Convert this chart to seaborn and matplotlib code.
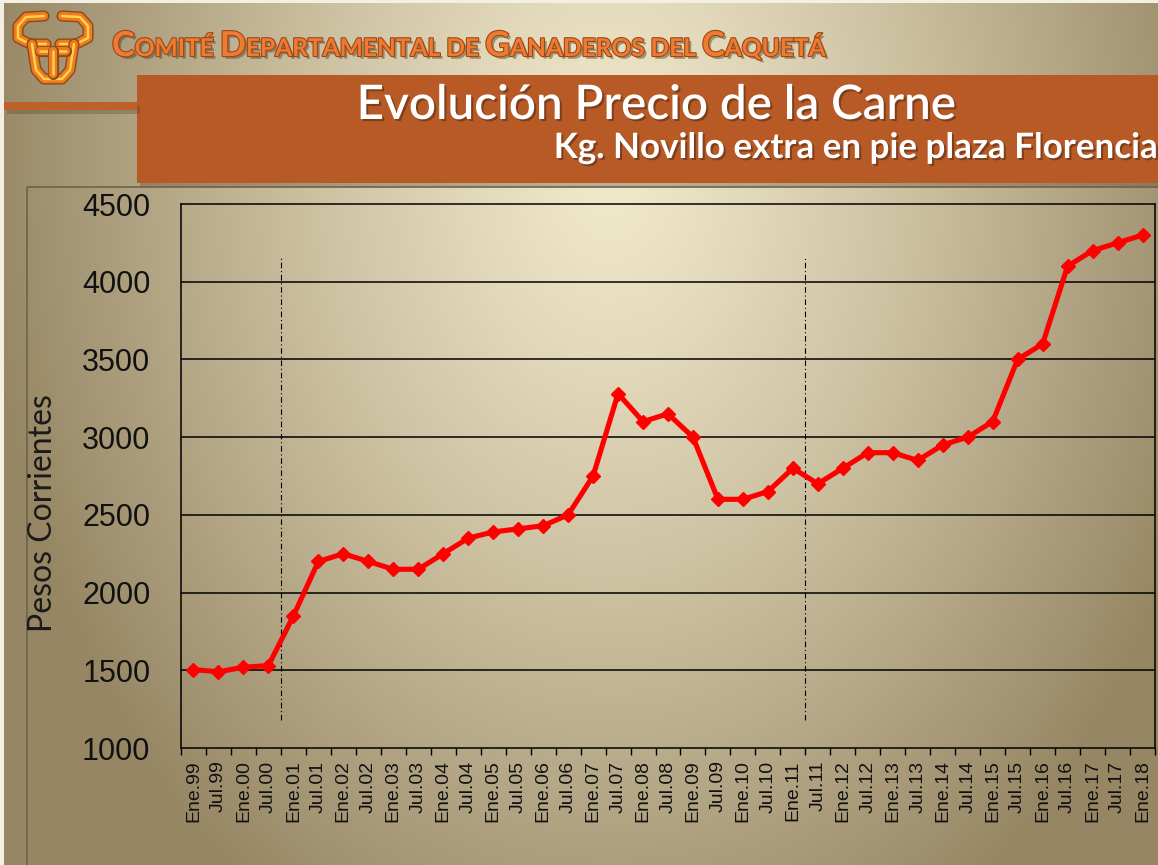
import numpy as np
import pandas as pd
import matplotlib
matplotlib.use("Agg")
import matplotlib.pyplot as plt
import matplotlib.patheffects as pe
from matplotlib.patches import Rectangle
import seaborn as sns

# ---------------- data ----------------
periodos = ["Ene.99", "Jul.99", "Ene.00", "Jul.00", "Ene.01", "Jul.01", "Ene.02", "Jul.02",
            "Ene.03", "Jul.03", "Ene.04", "Jul.04", "Ene.05", "Jul.05", "Ene.06", "Jul.06",
            "Ene.07", "Jul.07", "Ene.08", "Jul.08", "Ene.09", "Jul.09", "Ene.10", "Jul.10",
            "Ene.11", "Jul.11", "Ene.12", "Jul.12", "Ene.13", "Jul.13", "Ene.14", "Jul.14",
            "Ene.15", "Jul.15", "Ene.16", "Jul.16", "Ene.17", "Jul.17", "Ene.18"]
precios = [1505, 1490, 1520, 1530, 1850, 2200, 2250, 2200,
           2150, 2150, 2250, 2350, 2390, 2410, 2430, 2500,
           2750, 3280, 3100, 3150, 3000, 2600, 2600, 2650,
           2800, 2700, 2800, 2900, 2900, 2850, 2950, 3000,
           3100, 3500, 3600, 4100, 4200, 4250, 4300]
y_ticks = [1000, 1500, 2000, 2500, 3000, 3500, 4000, 4500]
cortes = ["Ene.01", "Jul.11"]          # dashed separators placed before these periods
encabezado = [("C", 1), ("OMITÉ ", 0), ("D", 1), ("EPARTAMENTAL ", 0), ("DE ", 0),
              ("G", 1), ("ANADEROS ", 0), ("DEL ", 0), ("C", 1), ("AQUETÁ", 0)]
titulo = "Evolución Precio de la Carne"
subtitulo = "Kg. Novillo extra en pie plaza Florencia"
etiqueta_y = "Pesos Corrientes"

df = pd.DataFrame({"pos": np.arange(len(periodos)), "periodo": periodos, "precio": precios})

# ---------------- figure ----------------
W, H = 1158, 865
fig = plt.figure(figsize=(W / 100, H / 100), dpi=100)
renderer = fig.canvas.get_renderer()

# background canvas in pixel coordinates (y down)
bg = fig.add_axes([0, 0, 1, 1], zorder=-10)
bg.axis("off")
yy, xx = np.mgrid[0:H, 0:W]
d = np.sqrt(((xx - 610) / 630) ** 2 + ((yy - 170) / 880) ** 2)
t = np.clip(d, 0, 1) ** 1.2
light = np.array([241, 233, 203]) / 255
dark = np.array([150, 134, 100]) / 255
img = light + (dark - light) * t[..., None]
bg.imshow(img, extent=[0, W, H, 0], aspect="auto", interpolation="bilinear")
bg.set_xlim(0, W)
bg.set_ylim(H, 0)

# thin light edges
bg.add_patch(Rectangle((0, 0), 4, H, color="#f3efe2", lw=0))
bg.add_patch(Rectangle((0, 0), W, 3, color="#f3efe2", lw=0))

shadow = [pe.SimplePatchShadow(offset=(2, -3), shadow_rgbFace="#5a4a30", alpha=0.35), pe.Normal()]
# orange banner and left stripe
bg.add_patch(Rectangle((137, 75), W - 137 + 10, 108, color="#b85a25", lw=0, path_effects=shadow))
bg.add_patch(Rectangle((4, 102), 133, 8, color="#bd6029", lw=0, path_effects=shadow))
# chart object border
bg.add_patch(Rectangle((27, 187), W, H, fill=False, ec="#6e624c", lw=1.2))

# logo (bull head)
logo_paths = [
    [(44, 16), (26, 17), (18, 26), (18, 38), (30, 44), (46, 44)],
    [(62, 16), (80, 17), (88, 26), (88, 38), (76, 44), (60, 44)],
    [(32, 44), (36, 70), (44, 79), (62, 79), (70, 70), (74, 44)],
    [(40, 51), (66, 51)],
    [(53, 51), (53, 74)],
]
for pth in logo_paths:
    xs, ys = zip(*pth)
    bg.plot(xs, ys, color="#8a4a18", lw=8, solid_capstyle="round", solid_joinstyle="round")
    bg.plot(xs, ys, color="#ee7a22", lw=6, solid_capstyle="round", solid_joinstyle="round")
    bg.plot(xs, ys, color="#ffd24a", lw=1.8, solid_capstyle="round", solid_joinstyle="round")

# header text in small caps
hdr_fx = [pe.SimplePatchShadow(offset=(2, -2), shadow_rgbFace="#4a3a20", alpha=0.45),
          pe.withStroke(linewidth=1.6, foreground="#9c4814")]
def draw_header(scale, x0=112, base=56, draw=True):
    x = x0
    items = []
    for s, big in encabezado:
        size = (28 if big else 20) * scale
        tt = bg.text(x, base, s, fontsize=size, family="Lato", fontweight="bold",
                     color="#ef7b33", va="baseline", ha="left", path_effects=hdr_fx)
        bb = tt.get_window_extent(renderer)
        x += bb.width
        items.append(tt)
    if not draw:
        for tt in items:
            tt.remove()
    return x - x0
w0 = draw_header(1.0, draw=False)
draw_header(713 / w0)

def fit_text(x, y, s, target_w, ha, **kw):
    tt = bg.text(x, y, s, ha=ha, va="baseline", **kw)
    bb = tt.get_window_extent(renderer)
    tt.set_fontsize(tt.get_fontsize() * target_w / bb.width)
    return tt

tfx = [pe.SimplePatchShadow(offset=(1.5, -1.5), shadow_rgbFace="#3a2010", alpha=0.45), pe.Normal()]
fit_text(656, 119, titulo, 598, "center", fontsize=30, family="Lato", fontweight="semibold",
         color="white", path_effects=tfx)
fit_text(1158, 158, subtitulo, 603, "right", fontsize=22, family="Lato", fontweight="bold",
         color="white", path_effects=tfx)

# ---------------- main chart ----------------
ax = fig.add_axes([181 / W, 1 - 748 / H, 974 / W, 544 / H])
ax.patch.set_alpha(0)

for yv in y_ticks[1:-1]:
    ax.axhline(yv, color="black", lw=1.1, zorder=1)

sepx = [periodos.index(c) - 0.5 for c in cortes]
ax.vlines(sepx, 1180, 4150, colors="black", linestyles=(0, (5, 2.5, 1, 2.5)), lw=0.8, zorder=1)

sns.lineplot(data=df, x="pos", y="precio", ax=ax, color="#ff0000", linewidth=3.7,
             marker="D", markersize=7.5, markeredgecolor="#ff0000", markeredgewidth=1,
             sort=False, zorder=3)

ax.set_xlim(-0.5, len(periodos) - 0.5)
ax.set_ylim(y_ticks[0], y_ticks[-1])
ax.set_yticks(y_ticks)
ax.set_yticklabels([str(v) for v in y_ticks], family="Liberation Sans")
ax.set_xticks(df["pos"])
ax.set_xticklabels(periodos, family="Liberation Sans")
ax.set_xticks(np.arange(-0.5, len(periodos), 1), minor=True)
ax.tick_params(axis="x", which="major", length=0, pad=9, labelsize=14, labelrotation=90,
               labelcolor="#111111")
ax.tick_params(axis="x", which="minor", length=5, width=1, color="black", direction="out")
ax.tick_params(axis="y", length=0, pad=22, labelsize=22, labelcolor="#111111")
for sp in ax.spines.values():
    sp.set_color("black")
    sp.set_linewidth(1.1)
ax.set_xlabel("")
ax.set_ylabel(etiqueta_y, family="Lato", fontsize=23, color="#1a1a1a")
ax.yaxis.set_label_coords((58 - 181) / 974, (748 - 513) / 544)

fig.savefig("out.png", dpi=100)
